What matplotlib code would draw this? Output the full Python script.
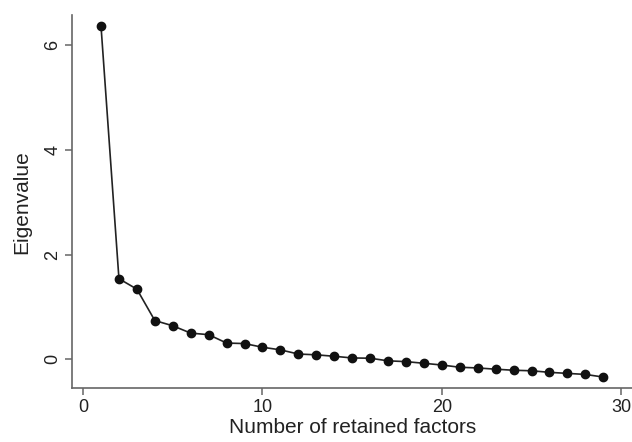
import numpy as np
import matplotlib.pyplot as plt

plt.rcParams['font.family'] = ['Liberation Sans', 'DejaVu Sans']

factors = list(range(1, 30))
eigenvalues = [6.37, 1.54, 1.34, 0.74, 0.64, 0.50, 0.47, 0.31, 0.30, 0.23,
               0.18, 0.10, 0.085, 0.057, 0.025, 0.02, -0.03, -0.045, -0.077, -0.11,
               -0.153, -0.166, -0.19, -0.21, -0.22, -0.25, -0.27, -0.29, -0.34]
x_ticks = [0, 10, 20, 30]
y_ticks = [0, 2, 4, 6]

fig = plt.figure(figsize=(6.32, 4.42), dpi=100)
ax = fig.add_axes([0.1144, 0.1215, 0.8856, 0.8445])

ax.plot(factors, eigenvalues, color='#222222', lw=1.2, marker='o',
        markersize=6, markerfacecolor='#111111', markeredgecolor='#111111')

ax.set_xlim(-0.6, 30.6)
ax.set_ylim(-0.555, 6.58)
ax.set_xticks(x_ticks)
ax.set_yticks(y_ticks)
ax.set_yticklabels([str(t) for t in y_ticks], rotation=90, va='center')

for side in ['top', 'right']:
    ax.spines[side].set_visible(False)
for side in ['left', 'bottom']:
    ax.spines[side].set_color('#666666')
    ax.spines[side].set_linewidth(1.2)

ax.tick_params(colors='#666666', labelcolor='#222222', length=5, width=1.1,
               labelsize=13, pad=3)
ax.set_xlabel('Number of retained factors', fontsize=15, color='#222222', labelpad=1)
ax.set_ylabel('Eigenvalue', fontsize=15, color='#222222', labelpad=9)

fig.savefig('out.png', dpi=100)
